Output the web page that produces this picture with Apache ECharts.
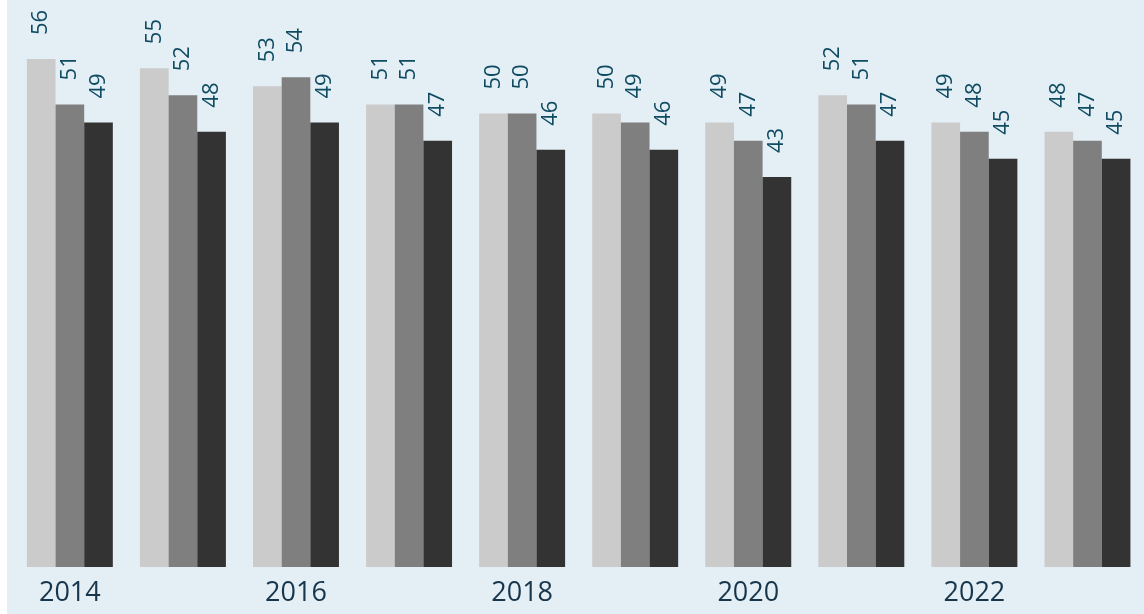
<!DOCTYPE html>
<html lang="en">
<head>
    <meta charset="UTF-8">
    <title>Bar chart 2014-2023</title>
    <script src="https://cdn.jsdelivr.net/npm/echarts@6/dist/echarts.min.js"></script>
    <style>
        body { margin: 0; background: #ffffff; }
        #echarts { position: absolute; left: 7px; top: 0; width: 1137px; height: 614px; }
    </style>
</head>
<body>
    <div id="echarts"></div>
<script>
    const years = ['2014', '2015', '2016', '2017', '2018', '2019', '2020', '2021', '2022', '2023'];
    const seriesA = [56, 55, 53, 51, 50, 50, 49, 52, 49, 48];
    const seriesB = [51, 52, 54, 51, 50, 49, 47, 51, 48, 47];
    const seriesC = [49, 48, 49, 47, 46, 46, 43, 47, 45, 45];

    const colors = ['#cbcbcb', '#7f7f7f', '#333333'];

    let myChart = echarts.init(document.getElementById('echarts'));

    const labelStyle = {
      show: true,
      position: 'top',
      rotate: 90,
      align: 'left',
      verticalAlign: 'middle',
      distance: 24,
      fontFamily: 'Open Sans',
      fontSize: 22,
      color: '#0f4b61',
    };

    const makeSeries = (data, i) => ({
      type: 'bar',
      data: data,
      barGap: 0,
      barCategoryGap: '24%',
      itemStyle: { color: colors[i] },
      label: labelStyle,
    });

    let option = {
      backgroundColor: '#e3eef5',
      animation: false,
      grid: { left: 6.33, top: 22.8, width: 1133.3, bottom: 47 },
      xAxis: {
        type: 'category',
        data: years,
        axisLine: { show: false },
        axisTick: { show: false },
        axisLabel: {
          interval: 1,
          margin: 13,
          fontFamily: 'Open Sans',
          fontSize: 27,
          color: '#17354b',
        },
      },
      yAxis: {
        type: 'value',
        min: 0,
        max: 60,
        show: false,
        splitLine: { show: false },
      },
      series: [seriesA, seriesB, seriesC].map(makeSeries),
    };
    myChart.setOption(option);
</script>
</body>
</html>
